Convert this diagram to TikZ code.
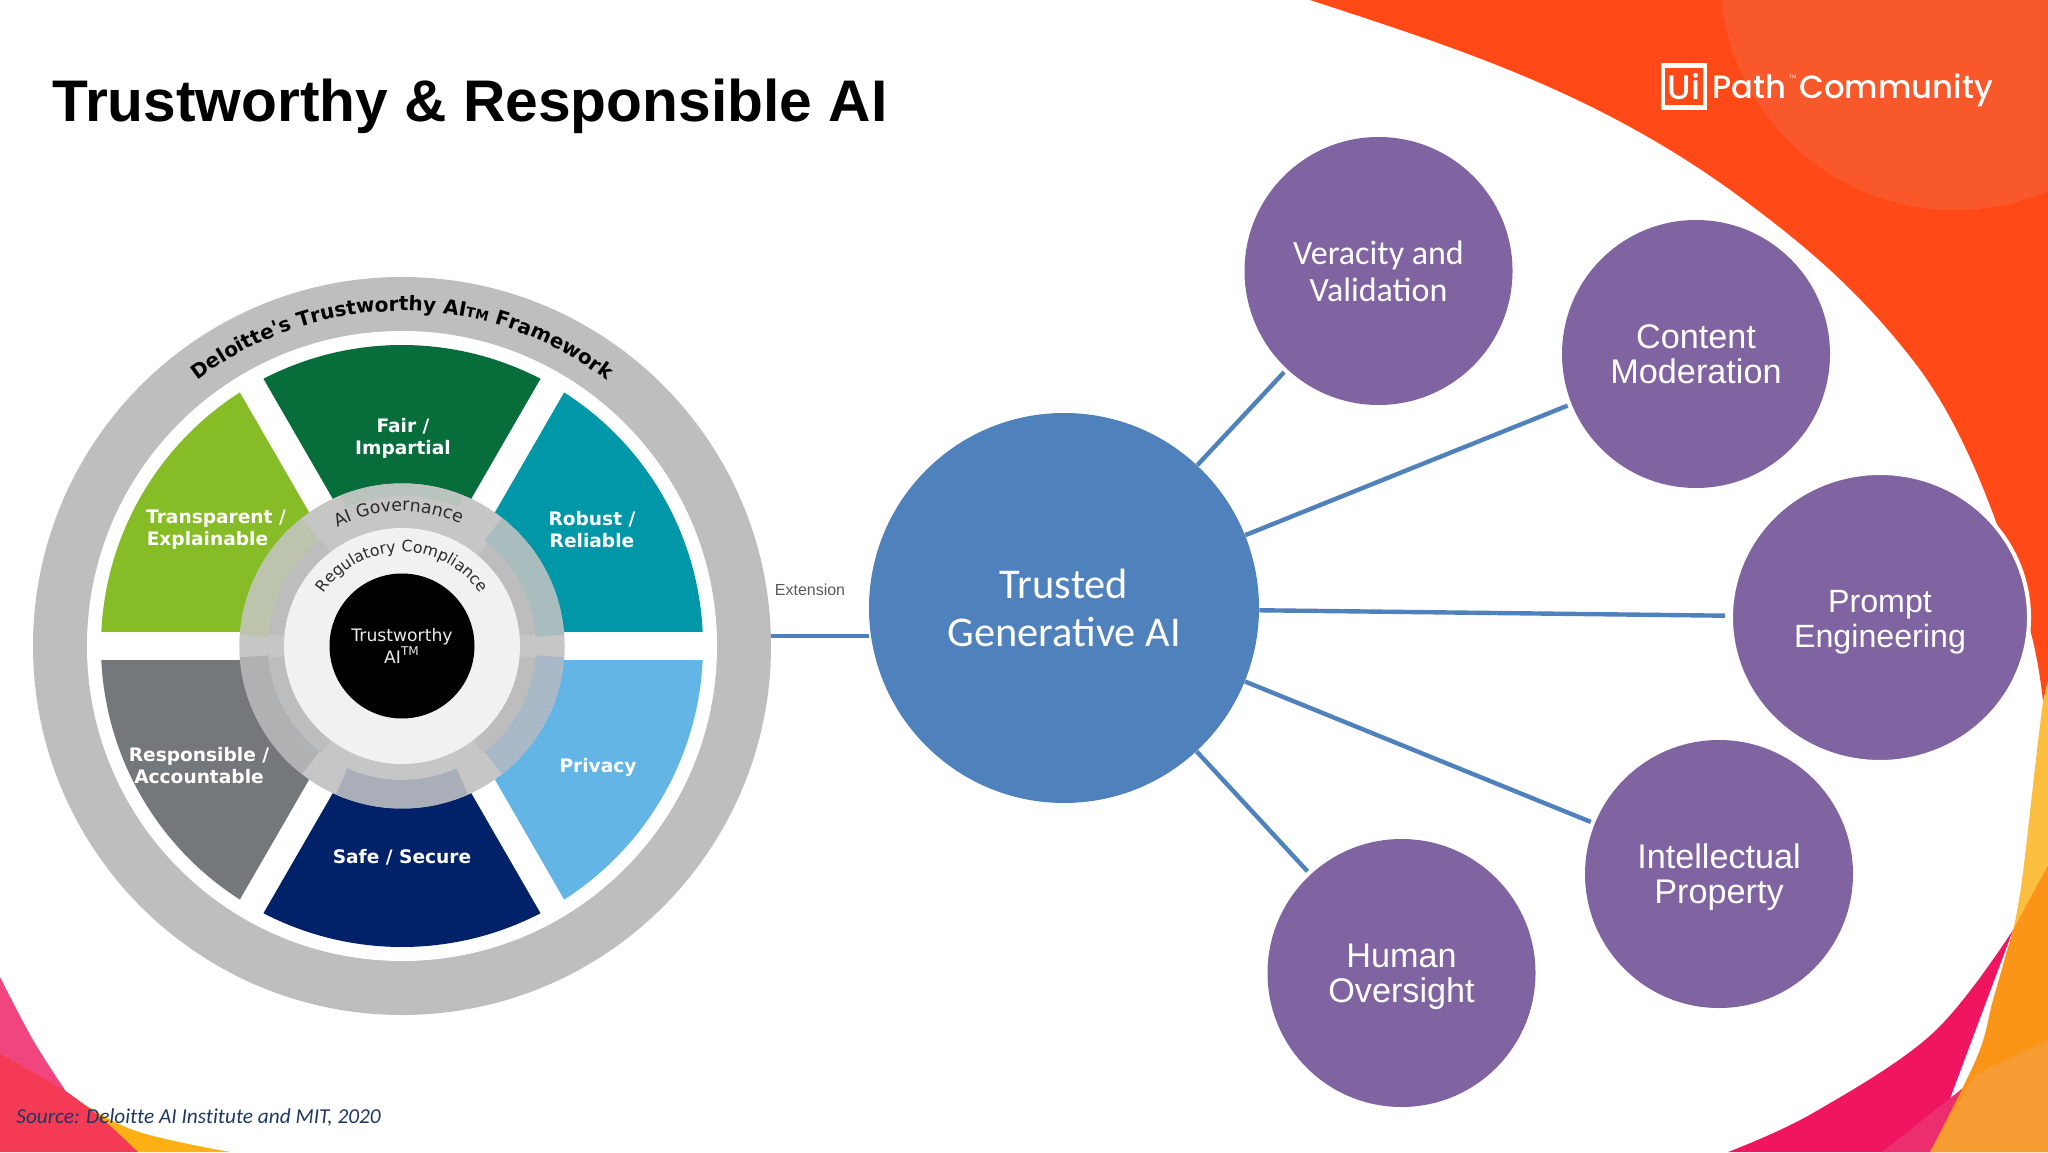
\documentclass[tikz,border=0pt]{standalone}
\usepackage{fontspec}
\usetikzlibrary{decorations.text,shapes.geometric}
\setmainfont{Liberation Sans}
\newfontfamily\calf{Carlito}
\newfontfamily\wheelf{DejaVu Sans}
\newfontfamily\popf{Poppins}[UprightFont={* Medium}]
\newcommand\fsz[2]{\fontsize{#1pt}{#2pt}\selectfont}
\newcommand\lowtxt[1]{\rule{0pt}{#1}}
\definecolor{orangeA}{HTML}{FF4A17}
\definecolor{orangeB}{HTML}{F9582A}
\definecolor{yellowA}{HTML}{FBBE3F}
\definecolor{orangeC}{HTML}{FA9518}
\definecolor{orangeD}{HTML}{F79C32}
\definecolor{pinkA}{HTML}{EF1560}
\definecolor{pinkB}{HTML}{EC2D6E}
\definecolor{pinkC}{HTML}{F0457F}
\definecolor{redA}{HTML}{F43A54}
\definecolor{yellowB}{HTML}{FFB014}
\definecolor{purp}{HTML}{8064A2}
\definecolor{blu}{HTML}{4F81BD}
\definecolor{ringg}{HTML}{BEBEBE}
\definecolor{hubA}{HTML}{C6C6C6}
\definecolor{hubB}{HTML}{BDBDBD}
\definecolor{hubC}{HTML}{F1F1F1}
\definecolor{srcc}{HTML}{1F3864}
\definecolor{secFair}{HTML}{066D3B}
\definecolor{secTrans}{HTML}{86BC25}
\definecolor{secRobust}{HTML}{0097A9}
\definecolor{secPriv}{HTML}{62B5E5}
\definecolor{secSafe}{HTML}{012169}
\definecolor{secResp}{HTML}{75787B}
\definecolor{tintRobust}{HTML}{A9BDBF}
\definecolor{tintTrans}{HTML}{BCC4AE}
\definecolor{tintResp}{HTML}{B0B1B2}
\definecolor{tintPriv}{HTML}{A9B9C8}
\definecolor{tintSafe}{HTML}{A9AEB8}
\definecolor{tintFair}{HTML}{BAC4BE}
\definecolor{darkt}{HTML}{2B2B2B}
\definecolor{extt}{HTML}{595959}
\tikzset{
  purple circle/.style={circle,fill=purp,text=white,inner sep=0pt,minimum size=134pt,align=center},
  arial big/.style={font=\fsz{17.1}{17.5}},
  cal big/.style={font=\calf\fsz{17}{18.5}},
  conn/.style={draw=blu,line width=2.2pt,shorten >=2pt},
  sector label/.style={text=white,align=center,inner sep=0pt,font=\wheelf\bfseries\fsz{9.3}{11}},
}
% colour, start angle, end angle, inner radius, outer radius
\newcommand\annul[5]{\fill[#1] (#2:#4) arc[start angle=#2,end angle=#3,radius=#4] -- (#3:#5) arc[start angle=#3,end angle=#2,radius=#5] -- cycle;}
\newcommand\sect[3]{\fill[#1] (0,0) -- (#2:301) arc[start angle=#2,end angle=#3,radius=301] -- cycle;}
\begin{document}
\begin{tikzpicture}[x=0.5pt,y=0.5pt]
\useasboundingbox (0,0) rectangle (2048,1152);
\fill[white] (0,0) rectangle (2048,1152);
% background, top right
\fill[orangeA] (1310,1152) .. controls (1456,1104) and (1602,1059) .. (1748,949)
  .. controls (1804,907) and (1859,862) .. (1915,789)
  .. controls (1955,737) and (1995,652) .. (2032,515)
  .. controls (2037,495) and (2041,470) .. (2043,450) -- (2048,472) -- (2048,1152) -- cycle;
\begin{scope}
\clip (1310,0) -- (2048,0) -- (2048,1152) -- (1310,1152) -- cycle;
\fill[orangeB] (1955,1177) circle[radius=235];
\end{scope}
% background, bottom right
\fill[yellowA] (2048,472) -- plot[smooth,tension=0.6] coordinates {(2043,450)(2037,402)(2022,272)(2013,222)} -- (2048,287) -- cycle;
\fill[pinkA] plot[smooth,tension=0.6] coordinates {(2013,222)(1933,119)(1813,39)(1728,0)} -- (1930,0) -- cycle;
\fill[pinkB] (1963,64) -- (1882,0) -- (1935,0) -- cycle;
\fill[orangeC] plot[smooth,tension=0.6] coordinates {(2013,222)(1993,152)(1977,95)(1930,0)} -- (2048,0) -- (2048,287) -- cycle;
\fill[orangeD] (1975,77) -- (2048,112) -- (2048,0) -- (1930,0) -- cycle;
% background, bottom left
\fill[pinkC] plot[smooth,tension=0.6] coordinates {(0,175)(33,112)(67,59)} -- (0,99) -- cycle;
\fill[yellowB] plot[smooth,tension=0.6] coordinates {(67,59)(133,22)(230,0)} -- (138,0) -- (67,59) -- cycle;
\fill[redA] plot[smooth,tension=0.6] coordinates {(67,60)(100,35)(138,0)} -- (0,0) -- (0,99) -- cycle;

% title, source, logo
\node[anchor=west,inner sep=0pt,font=\bfseries\fsz{29.35}{31}] (title) at (52,1046) {Trustworthy \& Responsible AI};
\node[anchor=base west,inner sep=0pt,text=srcc,font=\calf\itshape\addfontfeature{Ligatures=NoCommon}\fsz{10.65}{12}] (source) at (16,29) {Source: Deloitte AI Institute and MIT, 2020};
\node[draw=white,line width=2.3pt,minimum size=21pt,inner sep=0pt,text=white,font=\popf\fsz{17}{17}] (logobox) at (1684,1065.5) {Ui};
\node[anchor=base west,inner sep=0pt,text=white,font=\popf\fsz{16.1}{17}] (logopath) at (1712,1053) {Path};
\node[anchor=base west,inner sep=0pt,text=white,font=\fsz{2.5}{3}] (logotm) at (1789,1073) {TM};
\node[anchor=base west,inner sep=0pt,text=white,font=\popf\fsz{16.1}{17}] (logocomm) at (1799,1053) {Community};

% wheel
\begin{scope}[shift={(402,506)}]
\node[circle,fill=ringg,inner sep=0pt,minimum size=369pt] (wheel) at (0,0) {};
\fill[white] (0,0) circle[radius=315];
\sect{secRobust}{0}{60}
\sect{secFair}{60}{120}
\sect{secTrans}{120}{180}
\sect{secResp}{180}{240}
\sect{secSafe}{240}{300}
\sect{secPriv}{300}{360}
\foreach \a in {0,60,120}
  \draw[white,line width=13.5pt] (\a:-309) -- (\a:309);
% hub
\fill[hubA] (0,0) circle[radius=162.5];
\annul{hubB}{0}{360}{118}{134}
\annul{hubA}{66}{114}{118}{162.5}
\annul{hubA}{246}{294}{118}{134}
\annul{hubA}{175}{185}{118}{162.5}
\annul{hubA}{355}{365}{118}{162.5}
\annul{hubA}{233}{250}{118}{162.5}
\annul{hubA}{290}{307}{118}{162.5}
\annul{hubA}{50}{66}{118}{162.5}
\annul{hubA}{114}{127}{118}{162.5}
\annul{tintRobust}{4}{52}{134}{162.5}
\annul{tintTrans}{128}{176}{134}{162.5}
\annul{tintResp}{184}{232}{134}{162.5}
\annul{tintPriv}{308}{356}{134}{162.5}
\annul{tintSafe}{246}{294}{134}{162.5}
\annul{tintFair}{68}{112}{150}{162.5}
\fill[hubC] (0,0) circle[radius=118];
\path[decorate,decoration={text along path,text align=center,
  text={|\wheelf\bfseries\fsz{10}{12}|Deloitte's Trustworthy AI|\wheelf\bfseries\fsz{6.8}{12}|TM|\wheelf\bfseries\fsz{10}{12}| Framework}}]
  (128:335) arc[start angle=128,end angle=52,radius=335];
\path[decorate,decoration={text along path,text align=center,
  text={|\wheelf\fsz{8.7}{10}\color{darkt}|AI Governance}}]
  (122:135) arc[start angle=122,end angle=61,radius=135];
\path[decorate,decoration={text along path,text align=center,
  text={|\wheelf\fsz{7.9}{10}\color{darkt}|Regulatory Compliance}}]
  (153:94) arc[start angle=153,end angle=27,radius=94];
\node[circle,fill=black,text=white!92!black,inner sep=0pt,minimum size=72.5pt,align=center,font=\wheelf\fsz{8.6}{11}] (core) at (0,0) {Trustworthy\\AI\textsuperscript{TM}};
\end{scope}
\node[sector label] (fair) at (403,714) {Fair /\\Impartial};
\node[sector label] (transp) at (216,622) {Transparent /\\Explainable\hspace*{8.5pt}};
\node[sector label] (robust) at (592,622) {Robust /\\Reliable};
\node[sector label] (resp) at (199,386) {Responsible /\\Accountable};
\node[sector label] (priv) at (598,385) {Privacy};
\node[sector label] (safe) at (402,295) {Safe / Secure};
\node[inner sep=0pt,text=extt,font=\fsz{8}{9}] (ext) at (810,562) {Extension};

% right side
\node[circle,fill=blu,text=white,inner sep=0pt,minimum size=195pt,align=center,font=\calf\fsz{21.2}{24}] (trusted) at (1064,544) {Trusted\\Generative AI};
\node[purple circle,cal big] (ver) at (1378.5,881) {Veracity and\\Validation};
\node[purple circle,arial big] (content) at (1696,798) {Content\\Moderation};
\node[ellipse,fill=purp,draw=white,line width=2pt,text=white,inner sep=0pt,minimum width=149pt,minimum height=144.5pt,align=center,font=\fsz{16.1}{17.5}] (prompt) at (1880,534.5) {\lowtxt{15.7pt}Prompt\\Engineering};
\node[purple circle,arial big] (ip) at (1719,278) {\lowtxt{15.1pt}Intellectual\\Property};
\node[purple circle,arial big] (human) at (1401.5,179) {\lowtxt{15.8pt}Human\\Oversight};
\coordinate (exty) at (810,516);
\draw[conn] (trusted) -- (ver);
\draw[conn] (trusted) -- (content);
\draw[conn] (trusted) -- (prompt);
\draw[conn] (trusted) -- (ip);
\draw[conn] (trusted) -- (human);
\draw[draw=blu,line width=2.2pt] (wheel.east |- exty) -- (trusted.west |- exty);
\end{tikzpicture}
\end{document}
